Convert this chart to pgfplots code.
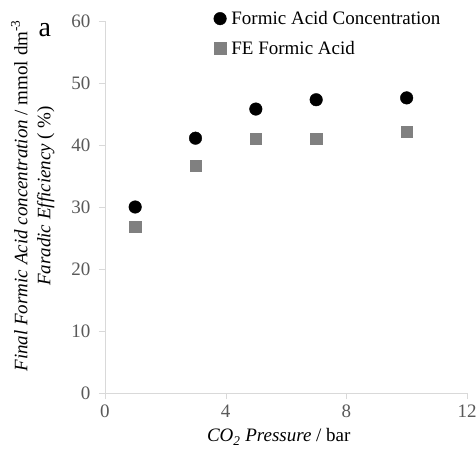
\documentclass[border=0pt]{standalone}
\usepackage{pgfplots}
\pgfplotsset{compat=1.18}
\usepackage{fontspec}
\setmainfont{Liberation Serif}
\definecolor{axisgray}{HTML}{D9D9D9}
\definecolor{tickgray}{HTML}{595959}
\definecolor{sqgray}{HTML}{808080}
\begin{document}
\begin{tikzpicture}[font=\fontsize{19bp}{23bp}\selectfont]
\begin{axis}[
  scale only axis,
  width=362bp, height=372bp,
  xmin=0, xmax=12, ymin=0, ymax=60,
  xtick={0,4,8,12}, ytick={0,10,20,30,40,50,60},
  xticklabels={0,4,8,12},
  yticklabels={0,10,20,30,40,50,60},
  axis lines=left,
  axis line style={axisgray, -},
  tick style={axisgray},
  tick align=outside,
  major tick length=6bp,
  ticklabel style={text=tickgray, font=\fontsize{19bp}{23bp}\selectfont},
  yticklabel style={xshift=-5bp},
  xticklabel style={yshift=-5bp, inner ysep=1bp},
  clip=false,
  xlabel={\textit{CO\textsubscript{2} Pressure} / bar},
  xlabel style={at={(axis description cs:0.48,-0.118)}, anchor=center, inner ysep=1bp},
  ylabel={\textit{Final Formic Acid concentration} / mmol dm\textsuperscript{-3}\\\textit{Faradic Efficiency} ( \%)},
  ylabel style={at={(axis description cs:-0.130,0.53)}, anchor=south, align=center},
  legend style={draw=none, fill=none, at={(rel axis cs:0.30,1.032)}, anchor=north west,
    row sep=11bp, inner sep=0pt, font=\fontsize{19bp}{23bp}\selectfont,
    nodes={inner xsep=5bp}},
  legend cell align=left,
  legend image code/.code={\draw[#1] plot coordinates {(0bp,0bp)};},
]
\addplot[only marks, mark=*, mark size=6.3bp, draw=black, fill=black]
  coordinates {(1,30.0) (3,41.1) (5,45.8) (7,47.3) (10,47.6)};
\addlegendentry{Formic Acid Concentration}
\addplot[only marks, mark=square*, mark size=5.6bp, draw=sqgray, fill=sqgray]
  coordinates {(1,26.8) (3,36.7) (5,41.0) (7,41.0) (10,42.1)};
\addlegendentry{FE Formic Acid}
\node[anchor=center, text=black] at (rel axis cs:-0.166,0.975) {\fontsize{28bp}{30bp}\selectfont a};
\end{axis}
\pgfresetboundingbox
\useasboundingbox (-105bp,-57bp) rectangle (371bp,393bp);
\end{tikzpicture}
\end{document}
